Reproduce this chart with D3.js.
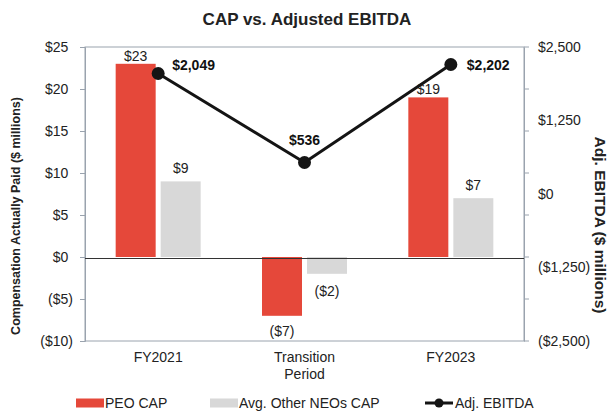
<!DOCTYPE html>
<html>
<head>
<meta charset="utf-8">
<script src="https://cdn.jsdelivr.net/npm/d3@7"></script>
<style>
  html, body { margin: 0; padding: 0; background: #fff; }
  svg { display: block; font-family: "Liberation Sans", Arial, sans-serif; }
</style>
</head>
<body>
<svg id="chart" width="609" height="412"></svg>
<script>
// Chart data
const categories = ["FY2021", "Transition Period", "FY2023"];
const categoryLines = [["FY2021"], ["Transition", "Period"], ["FY2023"]];
const peoCap = [23, -7, 19];          // $ millions
const otherNeoCap = [9, -2, 7];       // $ millions
const adjEbitda = [2049, 536, 2202];  // $ millions
const leftTicks = [-10, -5, 0, 5, 10, 15, 20, 25];
const rightTicks = [-2500, -1250, 0, 1250, 2500];
const seriesNames = ["PEO CAP", "Avg. Other NEOs CAP", "Adj. EBITDA"];

const W = 609, H = 412;
const plot = { left: 85, right: 524, top: 47, bottom: 341 };
const RED = "#E5483A", GRAY = "#D8D8D8", LINE = "#141414", AXIS = "#9AA3AE";

const svg = d3.select("#chart");

const x = d3.scaleBand().domain(categories).range([plot.left, plot.right]);
const yL = d3.scaleLinear().domain([-10, 25]).range([plot.bottom, plot.top]);
const yR = d3.scaleLinear().domain([-2500, 2500]).range([plot.bottom, plot.top]);

const fmtMoney = v => {
  const s = "$" + d3.format(",")(Math.abs(v));
  return v < 0 ? "(" + s + ")" : s;
};

// Title
svg.append("text")
  .attr("x", 307).attr("y", 25)
  .attr("text-anchor", "middle")
  .attr("font-size", 17).attr("font-weight", "bold").attr("fill", "#222")
  .text("CAP vs. Adjusted EBITDA");

// Plot frame
svg.append("rect")
  .attr("x", plot.left).attr("y", plot.top)
  .attr("width", plot.right - plot.left).attr("height", plot.bottom - plot.top)
  .attr("fill", "none").attr("stroke", AXIS).attr("stroke-width", 1);

// Left axis
const leftAxis = svg.append("g")
  .attr("transform", `translate(${plot.left},0)`)
  .call(d3.axisLeft(yL).tickValues(leftTicks).tickSize(5).tickPadding(7).tickFormat(fmtMoney));
leftAxis.select(".domain").attr("stroke", AXIS);
leftAxis.selectAll(".tick line").attr("stroke", AXIS);
leftAxis.selectAll(".tick text")
  .attr("font-size", 14).attr("fill", "#222")
  .attr("font-family", "'Liberation Sans', Arial, sans-serif")
  .attr("dx", d => d >= 0 ? -4.7 : 0);

// Right axis: labels on the EBITDA scale, tick marks shared with the left axis
const rightAxis = svg.append("g")
  .attr("transform", `translate(${plot.right},0)`)
  .call(d3.axisRight(yR).tickValues(rightTicks).tickSize(0).tickPadding(14).tickFormat(fmtMoney));
rightAxis.select(".domain").attr("stroke", AXIS);
rightAxis.selectAll(".tick text")
  .attr("font-size", 14).attr("fill", "#222")
  .attr("font-family", "'Liberation Sans', Arial, sans-serif");
svg.append("g").selectAll("line")
  .data(leftTicks)
  .join("line")
  .attr("x1", plot.right).attr("x2", plot.right + 5)
  .attr("y1", d => yL(d)).attr("y2", d => yL(d))
  .attr("stroke", AXIS);

// Axis titles
svg.append("text")
  .attr("transform", `translate(16,216) rotate(-90)`)
  .attr("text-anchor", "middle").attr("dominant-baseline", "central")
  .attr("font-size", 12.5).attr("font-weight", "bold").attr("fill", "#222")
  .text("Compensation Actually Paid ($ millions)");
svg.append("text")
  .attr("transform", `translate(600,225) rotate(90)`)
  .attr("text-anchor", "middle").attr("dominant-baseline", "central")
  .attr("font-size", 15.5).attr("font-weight", "bold").attr("fill", "#222")
  .text("Adj. EBITDA ($ millions)");

// Category labels
const catG = svg.append("g");
categoryLines.forEach((lines, i) => {
  const t = catG.append("text")
    .attr("x", x(categories[i]) + x.bandwidth() / 2)
    .attr("y", 362)
    .attr("text-anchor", "middle")
    .attr("font-size", 14).attr("fill", "#222");
  lines.forEach((ln, j) => {
    t.append("tspan").attr("x", x(categories[i]) + x.bandwidth() / 2)
      .attr("dy", j === 0 ? 0 : 17).text(ln);
  });
});

// Bars
const barW = 40, gap = 5;
const series = [
  { name: seriesNames[0], values: peoCap, color: RED, offset: -(gap / 2 + barW), above: 3, below: 15 },
  { name: seriesNames[1], values: otherNeoCap, color: GRAY, offset: gap / 2, above: 8, below: 17 }
];
const barsG = svg.append("g");
series.forEach(s => {
  s.values.forEach((v, i) => {
    const cx = x(categories[i]) + x.bandwidth() / 2;
    barsG.append("rect")
      .attr("x", cx + s.offset)
      .attr("y", yL(Math.max(0, v)))
      .attr("width", barW)
      .attr("height", Math.abs(yL(v) - yL(0)))
      .attr("fill", s.color);
    barsG.append("text")
      .attr("x", cx + s.offset + barW / 2)
      .attr("y", v >= 0 ? yL(v) - s.above : yL(v) + s.below)
      .attr("text-anchor", "middle")
      .attr("dominant-baseline", v >= 0 ? "auto" : "central")
      .attr("font-size", 14).attr("fill", "#222")
      .text(fmtMoney(v));
  });
});

// Zero line
svg.append("line")
  .attr("x1", plot.left).attr("x2", plot.right)
  .attr("y1", yL(0) + 1.5).attr("y2", yL(0) + 1.5)
  .attr("stroke", "#333").attr("stroke-width", 1.2);

// EBITDA line
const pts = adjEbitda.map((v, i) => [x(categories[i]) + x.bandwidth() / 2, yR(v)]);
svg.append("path")
  .attr("d", d3.line()(pts))
  .attr("fill", "none").attr("stroke", LINE).attr("stroke-width", 3);
svg.append("g").selectAll("circle")
  .data(pts).join("circle")
  .attr("cx", d => d[0]).attr("cy", d => d[1]).attr("r", 6.5)
  .attr("fill", LINE);

// EBITDA value labels
const labelPlace = [
  { dx: 14, dy: -9, anchor: "start" },
  { dx: 0, dy: -22, anchor: "middle" },
  { dx: 16, dy: 0, anchor: "start" }
];
svg.append("g").selectAll("text")
  .data(adjEbitda).join("text")
  .attr("x", (d, i) => pts[i][0] + labelPlace[i].dx)
  .attr("y", (d, i) => pts[i][1] + labelPlace[i].dy)
  .attr("text-anchor", (d, i) => labelPlace[i].anchor)
  .attr("dominant-baseline", "central")
  .attr("font-size", 14).attr("font-weight", "bold").attr("fill", "#111")
  .text(d => fmtMoney(d));

// Legend
const legY = 403;
const legStarts = [76, 210, 425];
const lg = svg.append("g");
[RED, GRAY].forEach((c, i) => {
  lg.append("rect").attr("x", legStarts[i]).attr("y", legY - 4.5)
    .attr("width", 28).attr("height", 9).attr("fill", c);
  lg.append("text").attr("x", legStarts[i] + 29).attr("y", legY)
    .attr("dominant-baseline", "central")
    .attr("font-size", 14).attr("fill", "#222").text(seriesNames[i]);
});
lg.append("line").attr("x1", legStarts[2]).attr("x2", legStarts[2] + 28)
  .attr("y1", legY).attr("y2", legY).attr("stroke", LINE).attr("stroke-width", 3);
lg.append("circle").attr("cx", legStarts[2] + 14).attr("cy", legY).attr("r", 4.5).attr("fill", LINE);
lg.append("text").attr("x", legStarts[2] + 30).attr("y", legY)
  .attr("dominant-baseline", "central")
  .attr("font-size", 14).attr("fill", "#222").text(seriesNames[2]);
</script>
</body>
</html>
